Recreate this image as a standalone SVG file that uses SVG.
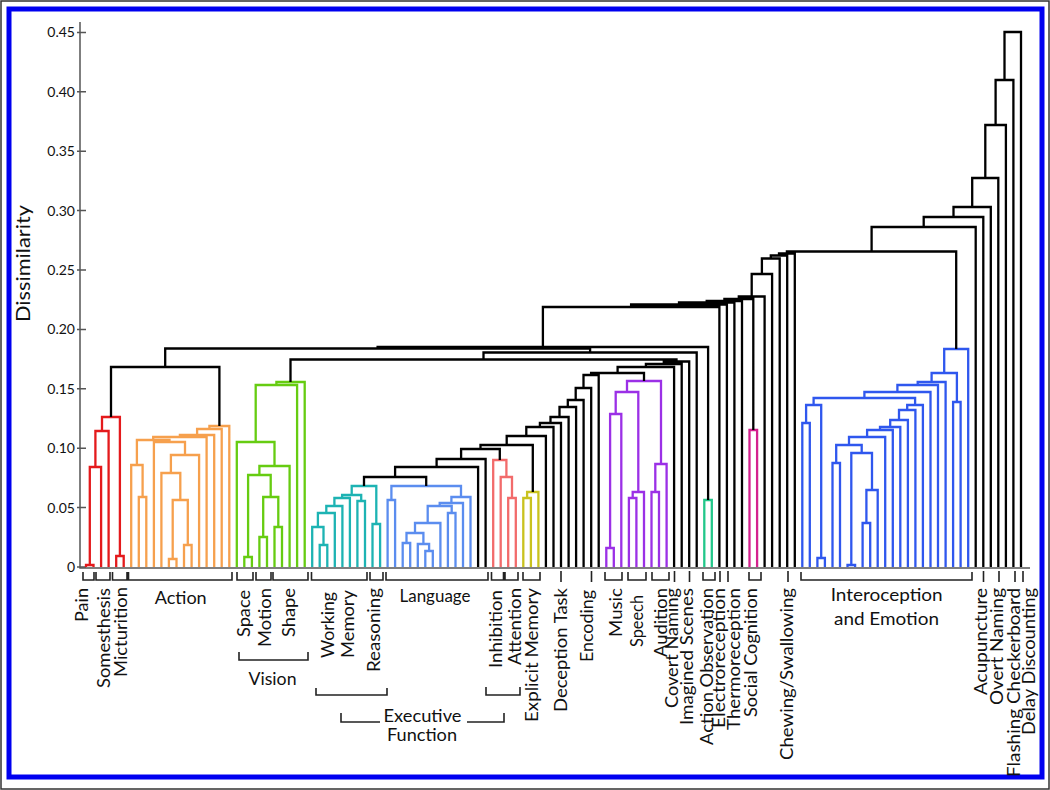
<svg xmlns="http://www.w3.org/2000/svg" width="1050" height="790" viewBox="0 0 1050 790">
<style>
.l{fill:none;stroke-width:2.3;stroke-linejoin:miter}
.k{stroke:#000}.r{stroke:#e41a1c}.o{stroke:#f6a04d}.g{stroke:#66cc11}.c{stroke:#1db3b3}
.b{stroke:#5b8def}.r2{stroke:#f26b6b}.y{stroke:#c9c21e}.p{stroke:#9b30e6}.t{stroke:#22c78a}
.m{stroke:#d4218e}.bl{stroke:#2f57ee}
.br{fill:none;stroke:#222;stroke-width:1.6}
.ax{fill:none;stroke:#555;stroke-width:1.5}
text{font-family:Lato,"Liberation Sans",sans-serif;fill:#111}
.lab{font-size:17px}
.num{font-size:14px}
</style>
<rect x="1" y="1" width="1048" height="788" fill="#fff" stroke="#333" stroke-width="1.5"/>
<rect x="9" y="9" width="1033" height="768" fill="none" stroke="#0000f0" stroke-width="5"/>
<g id="axes">
<path class="ax" d="M80 22V568H1030"/>
<path class="ax" d="M77 32.4H86M77 91.8H86M77 151.2H86M77 210.6H86M77 270H86M77 329.4H86M77 388.8H86M77 448.2H86M77 507.6H86M77 567H86"/>
<g class="num" text-anchor="end">
<text x="75" y="37.4">0.45</text><text x="75" y="96.8">0.40</text><text x="75" y="156.2">0.35</text>
<text x="75" y="215.6">0.30</text><text x="75" y="275">0.25</text><text x="75" y="334.4">0.20</text>
<text x="75" y="393.8">0.15</text><text x="75" y="453.2">0.10</text><text x="75" y="512.6">0.05</text>
<text x="75" y="572">0</text>
</g>
<text transform="translate(30,322) rotate(-90)" font-size="20" textLength="117" lengthAdjust="spacingAndGlyphs">Dissimilarity</text>
</g>
<g id="connectors">
<g id="cluster-red" class="l r"><path d="M86 567V565H93.5V567M89.8 565V467H101.1V567M95.4 467V431H108.6V567M116.2 567V556H123.7V567M102 431V417H119.9V556"/></g>
<g id="cluster-orange" class="l o"><path d="M138.8 567V497H146.3V567M131.2 567V465H142.6V497M168.9 567V559H176.5V567M184 567V545H191.6V567M172.7 559V500H187.8V545M161.4 567V473H180.3V500M170.9 473V455H199.1V567M153.9 567V442H185V455M136.9 465V440H169.5V442M153.2 440V437H206.6V567M179.9 437V435H214.2V567M197.1 435V429H221.7V567M209.4 429V426H229.3V567"/></g>
<g id="cluster-green" class="l g"><path d="M244.3 567V557H251.9V567M259.4 567V537H267V567M274.5 567V527H282V567M263.2 537V497H278.3V527M248.1 557V475H270.7V497M259.4 475V466H289.6V567M236.8 567V442H274.5V466M255.7 442V385H297.1V567M276.4 385V382H304.7V567"/></g>
<g id="cluster-cyan" class="l c"><path d="M319.7 567V545H327.3V567M312.2 567V527H323.5V545M317.9 527V513H334.8V567M326.3 513V506H342.4V567M334.4 506V498H349.9V567M357.4 567V501H365V567M342.1 498V495H361.2V501M351.7 495V486H376.3V524M372.5 567V524H380.1V567"/></g>
<g id="cluster-language" class="l b"><path d="M387.6 567V500H395.1V567M402.7 567V543H410.2V567M425.3 567V551H432.8V567M417.8 567V544H429.1V551M406.5 543V533H423.4V544M415 533V523H440.4V567M447.9 567V513H455.5V567M427.7 523V506H451.7V513M439.7 506V503H463V567M451.4 503V497H470.5V567M391.4 500V486H461V497"/></g>
<g id="cluster-inhibition" class="l r2"><path d="M508.2 567V498H515.8V567M500.7 567V477H512V498M493.2 567V460H506.4V477"/></g>
<g id="cluster-explicit" class="l y"><path d="M523.3 567V498H530.9V567M527.1 498V492H538.4V567"/></g>
<g id="cluster-purple" class="l p"><path d="M606.3 567V548H613.8V567M610.1 548V414H621.3V567M628.9 567V498H636.4V567M632.7 498V492H644V567M615.7 414V392H638.3V492M651.5 567V492H659V567M655.3 492V464H666.6V567M627 392V381H661V464"/></g>
<g id="cluster-actionobs" class="l t"><path d="M704.3 567V500H711.8V567"/></g>
<g id="cluster-social" class="l m"><path d="M749.5 567V430H757.1V567"/></g>
<g id="cluster-intero" class="l bl"><path d="M802.3 567V423H809.8V567M817.4 567V558H824.9V567M806.1 423V405H821.2V558M832.5 567V463H840V567M847.5 567V565H855.1V567M862.6 567V523H870.2V567M866.4 523V490H877.7V567M851.3 565V453H872V490M836.2 463V445H861.7V453M849 445V437H885.2V567M867.1 437V430H892.8V567M880 430V427H900.3V567M890.2 427V420H907.9V567M899 420V410H915.4V567M907.2 410V405H922.9V567M813.6 405V398H915.1V405M864.4 398V392H930.5V567M897.4 392V385H938V567M917.7 385V382H945.6V567M953.1 567V402H960.6V567M931.6 382V373H956.9V402M944.2 373V349H968.2V567"/></g>
<g id="black-links" class="l k"><path d="M111 417V367H219.4V426M364 486V477H426.2V486M395.1 477V467H478.1V567M436.6 467V459H485.6V567M461.1 459V449H499.8V460M480.5 449V445H532.8V492M506.7 445V436H545.9V567M526.3 436V427H553.5V567M539.9 427V423H561V567M550.5 423V417H568.6V567M559.5 417V407H576.1V567M567.8 407V400H583.6V567M575.7 400V388H591.2V567M583.5 388V375H598.7V567M591.1 375V373H644V381M617.6 373V367H674.1V567M645.9 367V364H681.7V567M663.8 364V361.5H689.2V567M290.5 382V359.5H676.5V361.5M483.5 359.5V352.5H696.7V567M165.2 367V348.5H590.1V352.5M377.6 348.5V347H708.1V500M542.9 347V307H719.4V567M631.1 307V304.5H726.9V567M679 304.5V302.5H734.4V567M706.7 302.5V301H742V567M724.4 301V299H753.3V430M738.8 299V296.5H764.6V567M751.7 296.5V274H772.1V567M761.9 274V258.5H779.7V567M770.8 258.5V255.5H787.2V567M779 255.5V253.5H794.8V567M786.9 253.5V251.5H956.2V349M871.6 251.5V227H975.7V567M923.7 227V217H983.3V567M953.5 217V207H990.8V567M972.2 207V178H998.3V567M985.3 178V125H1005.9V567M995.6 125V80H1013.4V567M1004.5 80V32H1021V567"/></g>
</g>
<g id="brackets" class="br">
<path d="M83 572V580H94V572M96 572V580H110V572M112.5 572V580H127V572M128.5 572V580H232V572M237 572V580H253V572M256 572V580H271V572M273 572V580H308V572M311.5 572V580H367V572M370 572V580H383V572M386 572V580H488V572M491.5 572V580H503.5V572M505 572V580H518V572M523 572V580H540V572M605 572V580H622V572M628 572V580H646V572M652 572V580H669V572M703 572V580H715V572M749 572V580H761V572M801 572V580H972V572"/>
<path d="M561 571V582M591.5 571V582M674.5 571V582M689.5 571V582M720 571V582M728 571V582M788 571V582M983.5 571V582M999 571V582M1015 571V582M1023 571V582"/>
<path d="M239 652V660H308V652M316 688V695H387V688M486 687V695H520V687M341 713V722H380M467 722H504V713"/>
</g>
<g id="labels" class="lab">
<g id="n-pain"><text transform="translate(88,622) rotate(-90)" textLength="34" lengthAdjust="spacingAndGlyphs">Pain</text></g>
<g id="n-somesthesis"><text transform="translate(109.5,688) rotate(-90)" textLength="100" lengthAdjust="spacingAndGlyphs">Somesthesis</text></g>
<g id="n-micturition"><text transform="translate(127,677) rotate(-90)" textLength="90" lengthAdjust="spacingAndGlyphs">Micturition</text></g>
<g id="n-action"><text x="154.7" y="604" textLength="52" lengthAdjust="spacingAndGlyphs">Action</text></g>
<g id="n-space"><text transform="translate(250,637) rotate(-90)" textLength="47" lengthAdjust="spacingAndGlyphs">Space</text></g>
<g id="n-motion"><text transform="translate(271,647) rotate(-90)" textLength="59" lengthAdjust="spacingAndGlyphs">Motion</text></g>
<g id="n-shape"><text transform="translate(295,637) rotate(-90)" textLength="49" lengthAdjust="spacingAndGlyphs">Shape</text></g>
<g id="n-vision"><text x="248.5" y="685" textLength="48" lengthAdjust="spacingAndGlyphs">Vision</text></g>
<g id="n-working"><text transform="translate(334,658) rotate(-90)" textLength="66" lengthAdjust="spacingAndGlyphs">Working</text></g>
<g id="n-memory"><text transform="translate(354,658) rotate(-90)" textLength="68" lengthAdjust="spacingAndGlyphs">Memory</text></g>
<g id="n-reasoning"><text transform="translate(380,672) rotate(-90)" textLength="84" lengthAdjust="spacingAndGlyphs">Reasoning</text></g>
<g id="n-language"><text x="399.5" y="602" textLength="71" lengthAdjust="spacingAndGlyphs">Language</text></g>
<g id="n-executive"><text x="383.5" y="722" textLength="78" lengthAdjust="spacingAndGlyphs">Executive</text><text x="387" y="741" textLength="70" lengthAdjust="spacingAndGlyphs">Function</text></g>
<g id="n-inhibition"><text transform="translate(502,668) rotate(-90)" textLength="78" lengthAdjust="spacingAndGlyphs">Inhibition</text></g>
<g id="n-attention"><text transform="translate(520.5,665) rotate(-90)" textLength="77" lengthAdjust="spacingAndGlyphs">Attention</text></g>
<g id="n-explicit"><text transform="translate(538,722) rotate(-90)" textLength="134" lengthAdjust="spacingAndGlyphs">Explicit Memory</text></g>
<g id="n-deception"><text transform="translate(567,712) rotate(-90)" textLength="124" lengthAdjust="spacingAndGlyphs">Deception Task</text></g>
<g id="n-encoding"><text transform="translate(593,662) rotate(-90)" textLength="72" lengthAdjust="spacingAndGlyphs">Encoding</text></g>
<g id="n-music"><text transform="translate(621.5,637) rotate(-90)" textLength="49" lengthAdjust="spacingAndGlyphs">Music</text></g>
<g id="n-speech"><text transform="translate(643,647) rotate(-90)" textLength="52" lengthAdjust="spacingAndGlyphs">Speech</text></g>
<g id="n-audition"><text transform="translate(666.5,657) rotate(-90)" textLength="69" lengthAdjust="spacingAndGlyphs">Audition</text></g>
<g id="n-covert"><text transform="translate(678,708) rotate(-90)" textLength="120" lengthAdjust="spacingAndGlyphs">Covert Naming</text></g>
<g id="n-imagined"><text transform="translate(693,725) rotate(-90)" textLength="137" lengthAdjust="spacingAndGlyphs">Imagined Scenes</text></g>
<g id="n-actionobs"><text transform="translate(712.5,745) rotate(-90)" textLength="157" lengthAdjust="spacingAndGlyphs">Action Observation</text></g>
<g id="n-electro"><text transform="translate(724.5,728) rotate(-90)" textLength="140" lengthAdjust="spacingAndGlyphs">Electroreception</text></g>
<g id="n-thermo"><text transform="translate(739.5,730) rotate(-90)" textLength="142" lengthAdjust="spacingAndGlyphs">Thermoreception</text></g>
<g id="n-social"><text transform="translate(756.5,717) rotate(-90)" textLength="129" lengthAdjust="spacingAndGlyphs">Social Cognition</text></g>
<g id="n-chewing"><text transform="translate(793,760) rotate(-90)" textLength="172" lengthAdjust="spacingAndGlyphs">Chewing/Swallowing</text></g>
<g id="n-intero"><text x="830.7" y="601" textLength="112" lengthAdjust="spacingAndGlyphs">Interoception</text><text x="834" y="625" textLength="105" lengthAdjust="spacingAndGlyphs">and Emotion</text></g>
<g id="n-acupuncture"><text transform="translate(986.5,695) rotate(-90)" textLength="107" lengthAdjust="spacingAndGlyphs">Acupuncture</text></g>
<g id="n-overt"><text transform="translate(1003,705) rotate(-90)" textLength="117" lengthAdjust="spacingAndGlyphs">Overt Naming</text></g>
<g id="n-flashing"><text transform="translate(1019.5,777) rotate(-90)" textLength="189" lengthAdjust="spacingAndGlyphs">Flashing Checkerboard</text></g>
<g id="n-delay"><text transform="translate(1034.5,735) rotate(-90)" textLength="147" lengthAdjust="spacingAndGlyphs">Delay Discounting</text></g>
</g>
</svg>
